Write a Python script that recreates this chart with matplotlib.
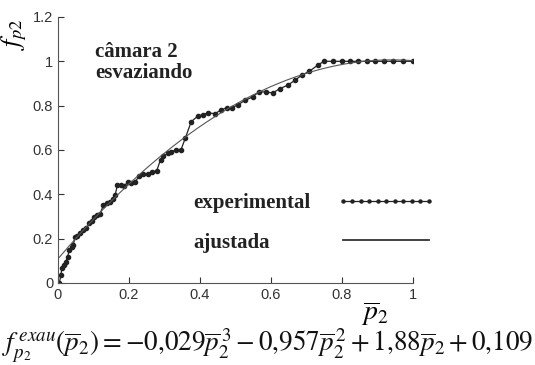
import numpy as np
import matplotlib
matplotlib.use('Agg')
import matplotlib.pyplot as plt

plt.rcParams['mathtext.fontset'] = 'stix'

# measured points, chamber 2 emptying
p2_exp = [0.004, 0.008, 0.011, 0.017, 0.022, 0.027, 0.032, 0.039, 0.043, 0.048,
          0.054, 0.062, 0.071, 0.079, 0.088, 0.095, 0.101, 0.109, 0.118, 0.128,
          0.137, 0.146, 0.156, 0.161, 0.167, 0.177, 0.186, 0.198, 0.207, 0.217,
          0.229, 0.240, 0.253, 0.264, 0.278, 0.289, 0.297, 0.311, 0.318, 0.331,
          0.346, 0.359, 0.375, 0.393, 0.409, 0.423, 0.442, 0.458, 0.475, 0.491,
          0.508, 0.527, 0.548, 0.566, 0.586, 0.605, 0.625, 0.647, 0.668, 0.686,
          0.708, 0.731, 0.749, 0.776, 0.799, 0.823, 0.846, 0.869, 0.893, 0.917,
          0.944, 0.971, 0.999]
fp2_exp = [0.000, 0.036, 0.066, 0.081, 0.096, 0.119, 0.149, 0.161, 0.171, 0.206,
           0.212, 0.224, 0.239, 0.246, 0.269, 0.281, 0.296, 0.306, 0.311, 0.351,
           0.359, 0.366, 0.381, 0.396, 0.441, 0.441, 0.438, 0.456, 0.453, 0.456,
           0.482, 0.491, 0.491, 0.501, 0.506, 0.557, 0.572, 0.587, 0.592, 0.599,
           0.599, 0.655, 0.727, 0.752, 0.760, 0.767, 0.764, 0.779, 0.791, 0.791,
           0.805, 0.824, 0.839, 0.862, 0.862, 0.857, 0.877, 0.892, 0.915, 0.937,
           0.955, 0.982, 1.000, 1.000, 1.000, 1.000, 1.000, 1.000, 1.000, 1.000,
           1.000, 1.000, 1.000]

# cubic fit coefficients (highest power first)
fit_coef = [-0.029, -0.957, 1.88, 0.109]

xticks = [0, 0.2, 0.4, 0.6, 0.8, 1]
yticks = [0, 0.2, 0.4, 0.6, 0.8, 1, 1.2]
xticklabels = ['0', '0.2', '0.4', '0.6', '0.8', '1']
yticklabels = ['0', '0.2', '0.4', '0.6', '0.8', '1', '1.2']

fig = plt.figure(figsize=(5.35, 3.65), dpi=100)
ax = fig.add_axes([0.1084, 0.2247, 0.6636, 0.7288])

p_fit = np.linspace(0, 1, 200)
f_fit = np.polyval(fit_coef, p_fit)

ax.plot(p2_exp, fp2_exp, color='#222222', lw=0.9, marker='o', ms=3.0,
        mfc='#222222', mec='#222222', label='experimental')
ax.plot(p_fit, f_fit, color='#555555', lw=0.8, label='ajustada')

ax.set_xlim(0, 1)
ax.set_ylim(0, 1.2)
ax.set_xticks(xticks)
ax.set_yticks(yticks)
ax.set_xticklabels(xticklabels)
ax.set_yticklabels(yticklabels)
ax.tick_params(direction='in', length=4, width=0.8, colors='#333333',
               labelsize=10.5)
for lab in ax.get_xticklabels() + ax.get_yticklabels():
    lab.set_family('Liberation Sans')
for s in ['top', 'right']:
    ax.spines[s].set_visible(False)
for s in ['left', 'bottom']:
    ax.spines[s].set_color('#555555')
    ax.spines[s].set_linewidth(0.8)

ax.text(0.105, 0.83, 'câmara 2\nesvaziando', transform=ax.transAxes,
        family='Liberation Serif', fontweight='bold', fontsize=15,
        linespacing=1.05, va='center', ha='left', color='#222222')

ax.set_ylabel(r'$f_{p2}$', fontsize=19, rotation=90)
ax.yaxis.set_label_coords(-0.082, 0.935)
ax.set_xlabel(r'$\overline{p}_2$', fontsize=20)
ax.xaxis.set_label_coords(0.893, -0.06)

# legend: labels on the left, samples on the right
leg = ax.legend(loc='center left', bbox_to_anchor=(0.38, 0.226),
                markerfirst=False, frameon=False, numpoints=11,
                handlelength=4.7, handletextpad=1.3, labelspacing=0.95,
                borderpad=0, borderaxespad=0,
                prop={'family': 'Liberation Serif', 'weight': 'bold',
                      'size': 15})
for t in leg.get_texts():
    t.set_color('#222222')
leg.legend_handles[0].set_markersize(2.2)
leg.legend_handles[1].set_linewidth(1.3)
leg.legend_handles[1].set_color('#333333')

# left-align the labels while keeping the samples in one column
fig.canvas.draw()
rows = leg._legend_handle_box.get_children()[0].get_children()
widths = [t.get_window_extent().width for t in leg.get_texts()]
for row, w in zip(rows, widths):
    row.sep += (max(widths) - w) * 72 / fig.dpi

fig.text(0.5, 1 - 345 / 365,
         r'$f_{p_2}^{\,exau}(\overline{p}_2) = -0{,}029\overline{p}_2^{\,3}'
         r' - 0{,}957\overline{p}_2^{\,2} + 1{,}88\overline{p}_2 + 0{,}109$',
         ha='center', va='center', fontsize=19.5, color='#111111')

fig.savefig('out.png', dpi=100, facecolor='white')
